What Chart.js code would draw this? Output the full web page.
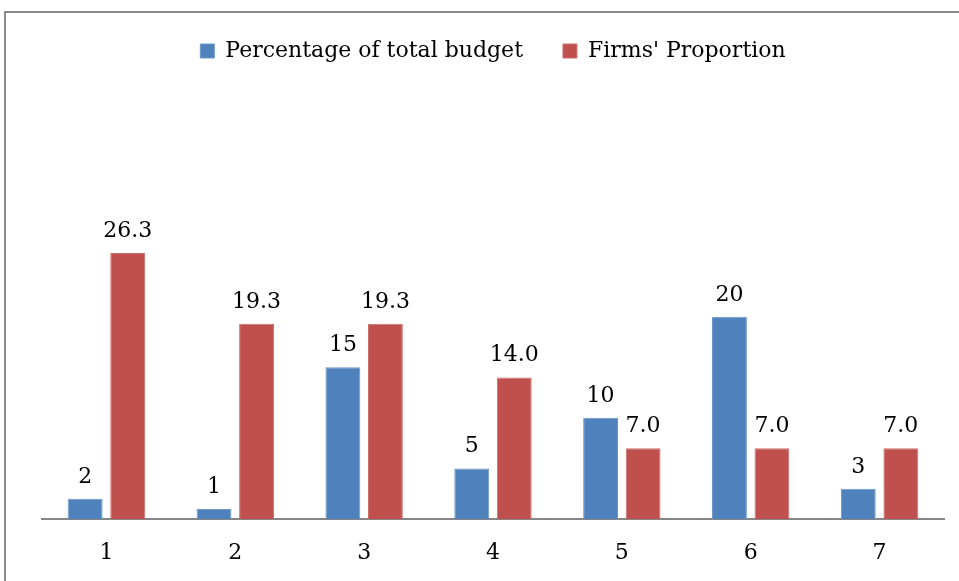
<!DOCTYPE html>
<html>
<head>
<meta charset="utf-8">
<script src="https://cdn.jsdelivr.net/npm/chart.js@4.4.0/dist/chart.umd.min.js"></script>
<style>
  html, body { margin: 0; padding: 0; background: #fff; }
  #wrap { position: relative; width: 959px; height: 581px; overflow: hidden; }
  #frame { position: absolute; left: 4px; top: 11px; width: 1100px; height: 1100px; border: 2px solid #8a8a8a; box-sizing: border-box; }
  #c { position: absolute; left: 0; top: 0; }
</style>
</head>
<body>
<div id="wrap">
  <div id="frame"></div>
  <canvas id="c" width="959" height="581"></canvas>
</div>
<script>
// datos
const categories = ['1', '2', '3', '4', '5', '6', '7'];
const budgetShare = [2, 1, 15, 5, 10, 20, 3];
const firmsShare = [26.3, 19.3, 19.3, 14.0, 7.0, 7.0, 7.0];
const seriesNames = ['Percentage of total budget', "Firms' Proportion"];

const FONT = "'DejaVu Serif', serif";
const BLUE = '#4F81BD';
const RED = '#C0504D';

// etiquetas encima de cada barra
const barLabels = {
    id: 'barLabels',
    afterDatasetsDraw(chart) {
        const ctx = chart.ctx;
        ctx.save();
        ctx.font = '22px ' + FONT;
        ctx.fillStyle = '#000';
        ctx.textAlign = 'center';
        ctx.textBaseline = 'alphabetic';
        chart.data.datasets.forEach((ds, i) => {
            chart.getDatasetMeta(i).data.forEach((bar, j) => {
                const v = ds.data[j];
                const txt = i === 0 ? String(v) : v.toFixed(1);
                ctx.fillText(txt, bar.x, bar.y - 16);
            });
        });
        ctx.restore();
    }
};

new Chart(document.getElementById('c'), {
    type: 'bar',
    data: {
        labels: categories,
        datasets: [
            { label: seriesNames[0], data: budgetShare, backgroundColor: BLUE, borderColor: '#6f97c9', borderWidth: 1 },
            { label: seriesNames[1], data: firmsShare, backgroundColor: RED, borderColor: '#cc6f6c', borderWidth: 1 }
        ]
    },
    options: {
        responsive: false,
        animation: false,
        layout: { padding: { top: 0, left: 42, right: 15, bottom: 0 } },
        datasets: { bar: { categoryPercentage: 0.66, barPercentage: 0.82 } },
        plugins: {
            legend: {
                position: 'top',
                labels: {
                    font: { family: FONT, size: 22 },
                    color: '#000',
                    boxWidth: 14,
                    boxHeight: 14,
                    padding: 40
                }
            },
            tooltip: { enabled: false }
        },
        scales: {
            x: {
                grid: { display: false, drawTicks: false },
                border: { color: '#868686', width: 2 },
                ticks: { font: { family: FONT, size: 22 }, color: '#000', padding: 21 },
                afterFit(scale) { scale.height = 62; }
            },
            y: {
                display: false,
                min: 0,
                max: 44.2
            }
        }
    },
    plugins: [barLabels]
});
</script>
</body>
</html>
